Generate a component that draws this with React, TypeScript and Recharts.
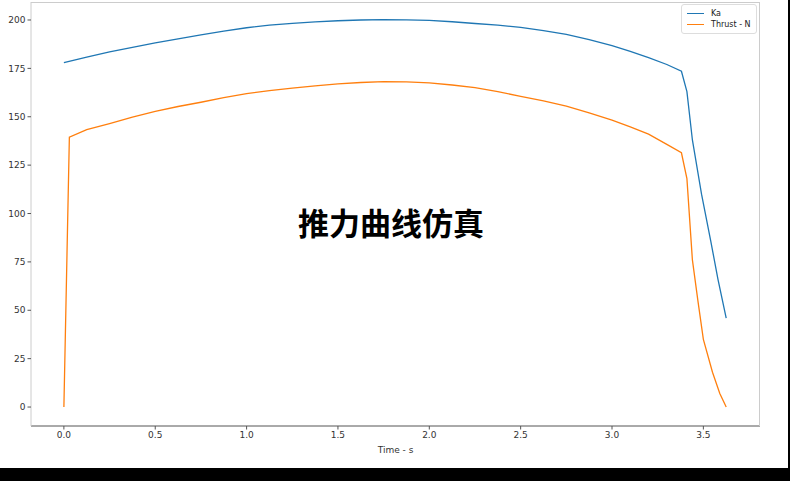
import React from 'react';
import { LineChart, Line, XAxis, YAxis, Legend } from 'recharts';

// Ka curve
const kaTime = [0, 0.125, 0.25, 0.375, 0.5, 0.625, 0.75, 0.875, 1.0, 1.125, 1.25, 1.375, 1.5, 1.625, 1.75, 1.875, 2.0, 2.125, 2.25, 2.375, 2.5, 2.625, 2.75, 2.875, 3.0, 3.1, 3.2, 3.3, 3.38, 3.41, 3.44, 3.49, 3.54, 3.58, 3.625];
const kaValues = [178, 180.8, 183.5, 185.9, 188.2, 190.3, 192.3, 194.2, 196, 197.3, 198.3, 199.0, 199.6, 200.0, 200.2, 200.1, 199.8, 199.1, 198.2, 197.3, 196.2, 194.5, 192.6, 189.8, 186.7, 183.8, 180.5, 177, 173.5, 163, 138, 110, 86, 66, 46];

// Thrust curve
const thrustTime = [0, 0.03, 0.125, 0.25, 0.375, 0.5, 0.625, 0.75, 0.875, 1.0, 1.125, 1.25, 1.375, 1.5, 1.625, 1.75, 1.875, 2.0, 2.125, 2.25, 2.375, 2.5, 2.625, 2.75, 2.875, 3.0, 3.1, 3.2, 3.3, 3.38, 3.41, 3.44, 3.47, 3.5, 3.55, 3.59, 3.625];
const thrustValues = [0, 139.5, 143.3, 146.5, 149.8, 152.8, 155.3, 157.5, 159.9, 162, 163.5, 164.8, 166, 167, 167.7, 168.2, 168.0, 167.5, 166.4, 165, 163, 160.5, 158.2, 155.5, 152, 148.3, 144.8, 141, 135.7, 131.4, 118, 76, 55, 35, 18, 7, 0];

const xTicks = [0, 0.5, 1.0, 1.5, 2.0, 2.5, 3.0, 3.5];
const yTicks = [0, 25, 50, 75, 100, 125, 150, 175, 200];

const kaData = kaTime.map((t, i) => ({ t, ka: kaValues[i] }));
const thrustData = thrustTime.map((t, i) => ({ t, thrust: thrustValues[i] }));

const font = '"DejaVu Sans", sans-serif';

const renderLegend = () => (
    <div style={{
        border: '1px solid #ddd', borderRadius: 3, background: '#fff', padding: '3px 5px',
        fontFamily: font, fontSize: 8, color: '#222', lineHeight: '11px', width: 64,
    }}>
        <div style={{ display: 'flex', alignItems: 'center' }}>
            <span style={{ display: 'inline-block', width: 17, height: 0, borderTop: '1.3px solid #1f77b4', marginRight: 7 }} />
            Ka
        </div>
        <div style={{ display: 'flex', alignItems: 'center' }}>
            <span style={{ display: 'inline-block', width: 17, height: 0, borderTop: '1.3px solid #ff7f0e', marginRight: 7 }} />
            Thrust - N
        </div>
    </div>
);

export default function App() {
    return (
        <div style={{ position: 'absolute', left: 0, top: 0, width: 790, height: 481, background: '#000' }}>
            <div style={{ position: 'absolute', left: 0, top: 0, width: 788, height: 468, background: '#fff' }}>
                <LineChart width={788} height={468} margin={{ top: 2, right: 28, bottom: 12, left: 0 }}>
                    <XAxis
                        dataKey="t"
                        type="number"
                        domain={[-0.18, 3.81]}
                        ticks={xTicks}
                        allowDataOverflow
                        tickFormatter={(v) => v.toFixed(1)}
                        height={30}
                        stroke="#555"
                        tick={{ fontSize: 9, fill: '#333', fontFamily: font }}
                        tickSize={3.5}
                        label={{ value: 'Time - s', position: 'insideBottom', offset: 3, fontSize: 9, fill: '#333', fontFamily: font }}
                    />
                    <YAxis
                        type="number"
                        domain={[-9.8, 209.3]}
                        ticks={yTicks}
                        allowDataOverflow
                        width={31}
                        stroke="#ccc"
                        tick={{ fontSize: 9, fill: '#333', fontFamily: font }}
                        tickLine={{ stroke: '#555' }}
                        tickSize={3.5}
                    />
                    <Legend
                        layout="horizontal"
                        verticalAlign="middle"
                        align="center"
                        content={renderLegend}
                        wrapperStyle={{ top: 4, left: 681, width: 76 }}
                    />
                    <Line data={kaData} dataKey="ka" name="Ka" stroke="#1f77b4" strokeWidth={1.3} dot={false} isAnimationActive={false} />
                    <Line data={thrustData} dataKey="thrust" name="Thrust - N" stroke="#ff7f0e" strokeWidth={1.3} dot={false} isAnimationActive={false} />
                </LineChart>
                <div style={{
                    position: 'absolute', left: 31, top: 2, width: 728, height: 423,
                    borderTop: '1px solid #ccc', borderRight: '1px solid #ccc', pointerEvents: 'none',
                }} />
                <div style={{
                    position: 'absolute', left: 298, top: 203, fontFamily: '"Noto Sans CJK SC", sans-serif',
                    fontSize: 31, fontWeight: 700, color: '#000', lineHeight: '38px', whiteSpace: 'nowrap',
                }}>
                    推力曲线仿真
                </div>
            </div>
        </div>
    );
}
